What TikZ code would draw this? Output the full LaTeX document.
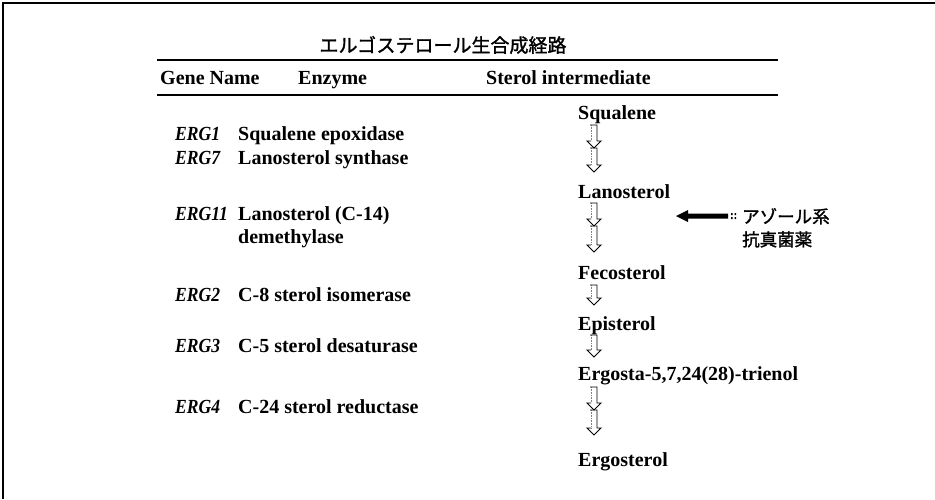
\documentclass[tikz,border=0pt]{standalone}
\usepackage{fontspec}
\usepackage{graphicx}
\setmainfont{Liberation Serif}
\newfontfamily\jpbold[FakeBold=1.5]{Noto Sans CJK JP}
\newcommand{\genetext}[1]{\scalebox{0.88}[1]{\bfseries\itshape #1}}
\begin{document}
\begin{tikzpicture}[x=1pt,y=-1pt,
  txt/.style={anchor=base west,inner sep=0pt,font=\fontsize{20}{22}\selectfont\bfseries},
  gene/.style={txt},
  jp/.style={anchor=base west,inner sep=0pt,font=\fontsize{17.5}{20}\selectfont\jpbold},
  rule/.style={line width=1.1pt,black},
  arrline/.style={line width=0.9pt,black,line join=miter},
  arrleft/.style={line width=0.6pt,gray,densely dotted}]
\useasboundingbox (0,0) rectangle (935,499);
% border
\draw[line width=1.2pt] (3,499) -- (3,3) -- (935,3);
% title
\node[anchor=center,inner sep=0pt,font=\fontsize{19}{22}\selectfont\jpbold] (title) at (443,45) {エルゴステロール生合成経路};
\draw[rule] (157,60) -- (778,60);
\node[txt] (hgene) at (160,84) {Gene Name};
\node[txt] (henz) at (298,84) {Enzyme};
\node[txt] (hster) at (486,84) {Sterol intermediate};
\draw[rule] (157,95) -- (778,95);
% genes and enzymes
\node[gene] (g1) at (175,140) {\genetext{ERG1}};
\node[txt] (e1) at (238,140) {Squalene epoxidase};
\node[gene] (g7) at (175,164) {\genetext{ERG7}};
\node[txt] (e7) at (238,164) {Lanosterol synthase};
\node[gene] (g11) at (175,220) {\genetext{ERG11}};
\node[txt] (e11) at (238,220) {Lanosterol (C-14)};
\node[txt] (e11b) at (238,243) {demethylase};
\node[gene] (g2) at (175,301) {\genetext{ERG2}};
\node[txt] (e2) at (238,301) {C-8 sterol isomerase};
\node[gene] (g3) at (175,352) {\genetext{ERG3}};
\node[txt] (e3) at (238,352) {C-5 sterol desaturase};
\node[gene] (g4) at (175,413) {\genetext{ERG4}};
\node[txt] (e4) at (238,413) {C-24 sterol reductase};
% intermediates
\node[txt] (squ) at (578,119) {Squalene};
\node[txt] (lan) at (578,198) {Lanosterol};
\node[txt] (fec) at (578,279) {Fecosterol};
\node[txt] (epi) at (578,330) {Episterol};
\node[txt] (erg) at (578,380) {Ergosta-5,7,24(28)-trienol};
\node[txt] (ergo) at (578,466) {Ergosterol};
% flow arrows
\newcommand{\flowarr}[2]{%
  \draw[arrleft] (591,#1) -- (591,#2-7);
  \draw[arrline] (590,#1) -- (597,#1) -- (597,#2-7) -- (601,#2-7) -- (594,#2) -- (587,#2-7) -- (591,#2-7);
}
\flowarr{125}{148}
\flowarr{148}{172}
\flowarr{203}{226}
\flowarr{226}{252}
\flowarr{285}{305}
\flowarr{335}{357}
\flowarr{387}{410}
\flowarr{410}{435}
% azole arrow
\node[jp] (az1) at (742,223) {アゾール系};
\node[jp] (az2) at (742,246) {抗真菌薬};
\coordinate (tip) at (676,216);
\fill (tip) -- (688,210) -- (688,213.5) -- (728,213.5) -- (728,218.5) -- (688,218.5) -- (688,222) -- cycle;
\fill (731,213) rectangle (732.5,215) (731,217) rectangle (732.5,219);
\fill (734.5,213) rectangle (736,215) (734.5,217) rectangle (736,219);
\end{tikzpicture}
\end{document}
